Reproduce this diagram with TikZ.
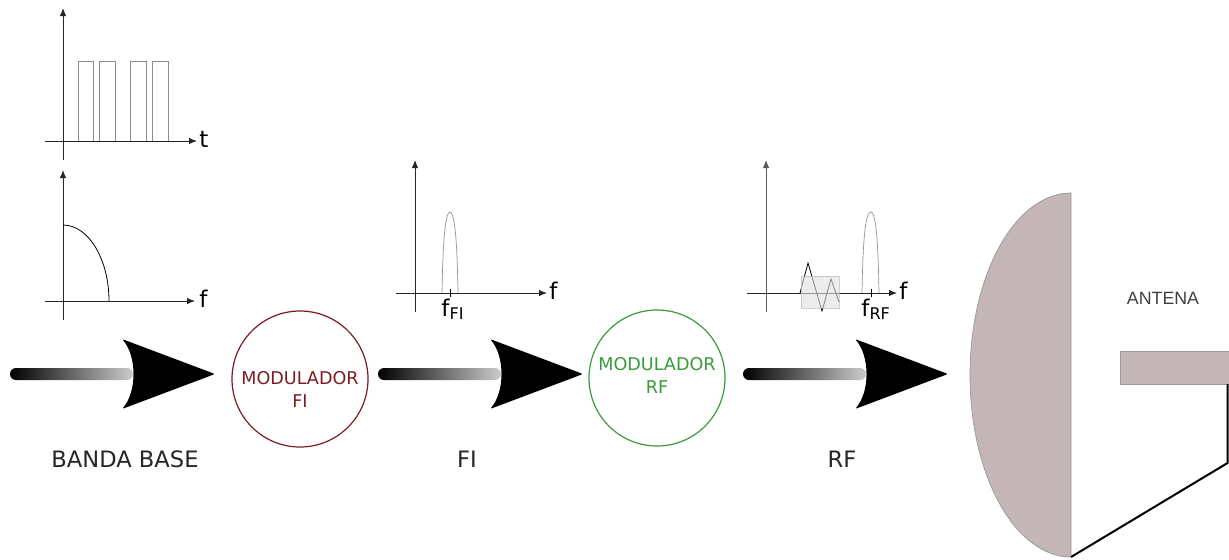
\documentclass[tikz,border=0pt]{standalone}
\usepackage{fontspec}
\setmainfont{DejaVu Sans}
\newfontfamily\arialfont{Liberation Sans}
\usetikzlibrary{arrows.meta,positioning}
\definecolor{modfi}{HTML}{7B1C25}
\definecolor{modrf}{HTML}{3A9A3A}
\definecolor{dishfill}{HTML}{C4B6B6}

\begin{document}
\begin{tikzpicture}[
    x=0.5pt, y=-0.5pt,
    axis/.style={-{Latex[length=4pt,width=3.2pt]}, line width=0.4pt, black!85},
    pulse/.style={line width=0.4pt, gray!90},
    spec/.style={line width=0.35pt, gray!85},
    modring/.style={circle, draw=#1, line width=0.6pt, minimum size=68pt, inner sep=0pt},
    modtext/.style={text=#1, align=center, font=\fontsize{8.8}{11.5}\selectfont, inner sep=0pt},
    lbl/.style={text=black!85, font=\fontsize{11.3}{13}\selectfont, inner sep=0pt},
    axlbl/.style={font=\fontsize{11.5}{13}\selectfont, inner sep=0pt, anchor=base west},
    antpart/.style={fill=dishfill, draw=gray!80, line width=0.35pt},
]
\useasboundingbox (0,0) rectangle (1229,559);

% Banda base: pulse train
\draw[axis] (63,160) -- (63,8);
\draw[axis] (45,141) -- (197,141);
\node[axlbl] (t) at (199,147) {t};
\foreach \a/\b in {78/93, 99/115, 130/146, 152/168}
  \draw[pulse] (\a,141) -- (\a,61) -- (\b,61) -- (\b,141);

% Banda base: spectrum
\draw[axis] (63,320) -- (63,170);
\draw[axis] (45,301) -- (195,301);
\node[axlbl] (fbb) at (199,307) {f};
\draw[line width=0.4pt] (63,225) .. controls (88.4,225) and (109,259) .. (109,301);

% FI spectrum
\draw[axis] (415,312) -- (415,160);
\draw[axis] (396,293) -- (547,293);
\node[axlbl] (ffi) at (549,299) {f};
\draw[spec] (442,293) .. controls (443,232) and (446,212) .. (450,212)
            .. controls (454,212) and (457,232) .. (458,293);
\draw[line width=0.4pt] (450,289) -- (450,297);
\node[axlbl] (ffilbl) at (441,316) {f\textsubscript{FI}};

% RF spectrum
\draw[axis, gray!70!black] (766,312) -- (766,160);
\draw[axis] (747,293) -- (897,293);
\node[axlbl] (frf) at (899,299) {f};
\draw[line width=0.4pt] (800,293) -- (808,263) -- (822,311) -- (831,279) -- (839,302);
\fill[gray!25, opacity=0.6, draw=gray!60] (801,276) rectangle (839,308);
\draw[spec] (862,293) .. controls (863,232) and (866,212) .. (871,212)
            .. controls (875,212) and (878,232) .. (879,293);
\draw[line width=0.4pt] (871,289) -- (871,297);
\node[axlbl] (frflbl) at (861,316) {f\textsubscript{RF}};

% big arrows
\foreach \tip in {215,583,948} {
  \shade[left color=black, right color=gray!40, rounded corners=3pt]
    (\tip-205,368) rectangle (\tip-82,380);
  \fill[rounded corners=0.8pt] (\tip-93,339) .. controls (\tip-78,356) and (\tip-78,392) .. (\tip-93,409)
    -- (\tip,374) -- cycle;
}

% modulators
\node[modring=modfi] (modfi) at (300,379) {};
\node[modtext=modfi] (modfitext) at (300,389) {MODULADOR\\FI};
\node[modring=modrf] (modrf) at (657,378) {};
\node[modtext=modrf] (modrftext) at (657,375) {MODULADOR\\RF};

% stage labels
\node[lbl] (bb) at (125,459) {BANDA BASE};
\node[lbl] (fi) at (467,459) {FI};
\node[lbl] (rf) at (842,459) {RF};

% antenna
\draw[antpart] (1071,193) .. controls (1015.2,193) and (970,274.5) .. (970,375)
  .. controls (970,475.5) and (1015.2,557) .. (1071,557) -- cycle;
\draw[antpart] (1120,351) rectangle (1232,384);
\coordinate (feedend) at (1227.5,384);
\coordinate (bend) at (1227.5,463);
\coordinate (dishbase) at (1071,557);
\draw[line width=1pt] (feedend) -- (bend) -- (dishbase);
\node[text=black!75, font=\arialfont\fontsize{8.9}{10}\selectfont] (antena) at (1163,298) {ANTENA};
\end{tikzpicture}
\end{document}
